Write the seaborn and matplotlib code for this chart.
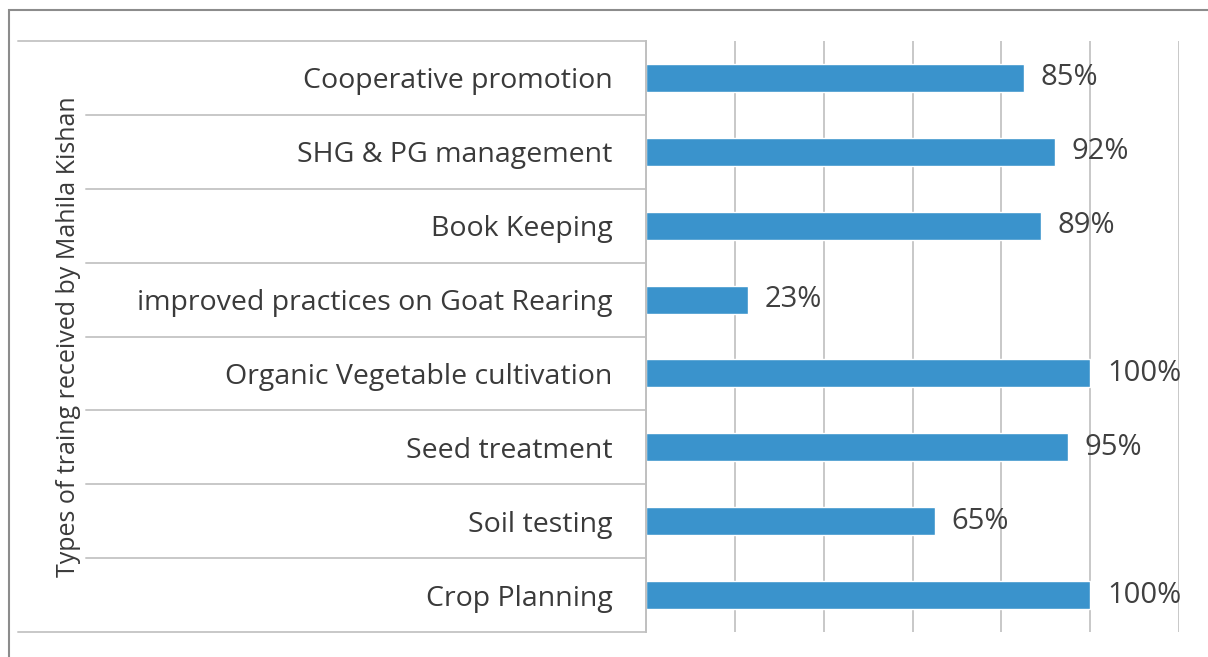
import numpy as np
import pandas as pd
import matplotlib
matplotlib.use("Agg")
import matplotlib.pyplot as plt
import seaborn as sns
from matplotlib.patches import Rectangle

# training types, top to bottom as in the chart
trainings = [
    "Cooperative promotion",
    "SHG & PG management",
    "Book Keeping",
    "improved practices on Goat Rearing",
    "Organic Vegetable cultivation",
    "Seed treatment",
    "Soil testing",
    "Crop Planning",
]
pct = [85, 92, 89, 23, 100, 95, 65, 100]
pct_labels = [f"{v}%" for v in pct]

df = pd.DataFrame({"training": trainings, "pct": pct})

sns.set_style("white")
plt.rcParams["font.family"] = ["Open Sans", "DejaVu Sans"]

W, H = 1208, 657
fig = plt.figure(figsize=(W / 100, H / 100), dpi=100)
fig.patch.set_facecolor("white")

# outer chart border (cropped at right/bottom in the reference)
fig.patches.append(Rectangle((9 / W, -0.05), 1.1, 1 - 10 / H + 0.05,
                             transform=fig.transFigure, fill=False,
                             edgecolor="#8c8c8c", lw=1.5))

left, right, top, bottom = 646, 1179, 41, 632
ax = fig.add_axes([left / W, 1 - bottom / H, (right - left) / W, (bottom - top) / H])

sns.barplot(data=df, x="pct", y="training", color="#3a93cc", width=0.38,
            saturation=1, ax=ax)

n = len(trainings)
ax.set_ylim(n - 0.5, -0.5)
ax.set_xlim(0, 120)
ax.set_xticks(np.arange(0, 121, 20))
ax.set_xticklabels([])
ax.tick_params(axis="x", length=0)
ax.grid(axis="x", color="#c8c8c8", lw=1.4)
ax.set_axisbelow(True)
for s in ["top", "right", "bottom"]:
    ax.spines[s].set_visible(False)
ax.spines["left"].set_color("#c0c0c0")
ax.spines["left"].set_linewidth(1.4)

ax.tick_params(axis="y", length=0, pad=24, labelsize=20.5, labelcolor="#3a3a3a")
ax.set_xlabel("")
ax.set_ylabel("Types of traing received by Mahila Kishan", fontsize=18,
              color="#3a3a3a", labelpad=0)
ax.yaxis.set_label_coords((81 - left) / (right - left), 0.5)

ax.bar_label(ax.containers[0], labels=pct_labels, padding=12, fontsize=21,
             color="#404040")

# category separator lines in the label area
tr = ax.get_yaxis_transform()
for b in np.arange(-0.5, n, 1.0):
    x0 = (18 - left) / (right - left) if b in (-0.5, n - 0.5) else (86 - left) / (right - left)
    ax.plot([x0, 0], [b, b], transform=tr, color="#c8c8c8", lw=1.4, clip_on=False)

fig.savefig("out.png", dpi=100)
